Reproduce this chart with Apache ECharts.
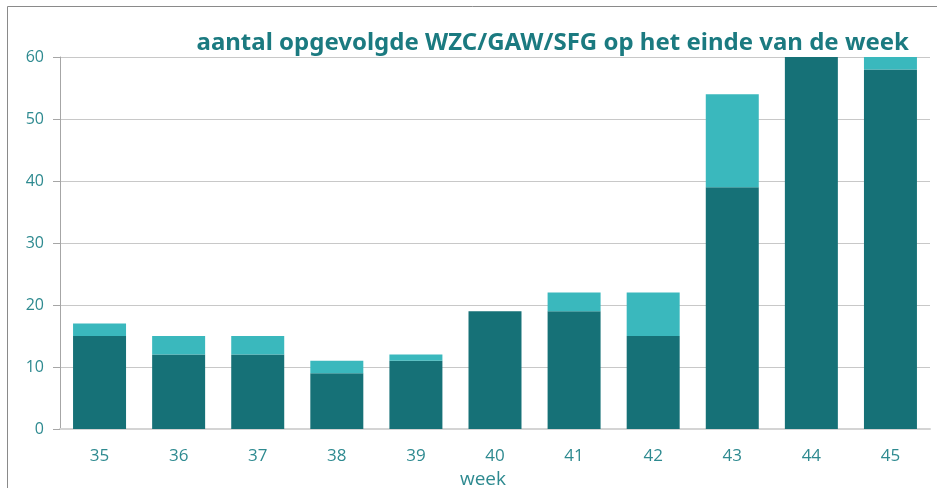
<!DOCTYPE html>
<html><head><meta charset="utf-8">
<script src="https://cdn.jsdelivr.net/npm/echarts@6/dist/echarts.min.js"></script>
<style>html,body{margin:0;padding:0;background:#fff;}#c{width:937px;height:488px;}</style>
</head><body><div id="c"></div>
<script>
const categories = ['35','36','37','38','39','40','41','42','43','44','45'];
const baseValues = [15, 12, 12, 9, 11, 19, 19, 15, 39, 60, 58];
const extraValues = [2, 3, 3, 2, 1, 0, 3, 7, 15, 0, 2];
const yTicks = [0, 10, 20, 30, 40, 50, 60];
const titleText = 'aantal opgevolgde WZC/GAW/SFG op het einde van de week';
const axisName = 'week';

const chart = echarts.init(document.getElementById('c'));
chart.setOption({
  animation: false,
  title: {
    text: titleText, right: 23, top: 26,
    textStyle: {fontFamily: 'Noto Sans', fontWeight: 'bold', fontSize: 24, color: '#1b7a80'}
  },
  graphic: [{
    type: 'rect', silent: true,
    shape: {x: 7.5, y: 6.5, width: 1200, height: 1000},
    style: {fill: 'none', stroke: '#8a8a8a', lineWidth: 1}
  }],
  grid: {left: 60, right: 7, top: 57, bottom: 59, outerBoundsMode: 'none', containLabel: false},
  xAxis: {
    type: 'category', data: categories,
    name: axisName, nameLocation: 'middle', nameGap: 29,
    nameTextStyle: {fontFamily: 'Open Sans', fontSize: 19, color: '#2e8a90', padding: [0, 24, 0, 0]},
    axisLine: {lineStyle: {color: '#d4d4d4', width: 2}},
    axisTick: {show: false},
    axisLabel: {fontFamily: 'Open Sans', fontSize: 17, color: '#2e8a90', margin: 19}
  },
  yAxis: {
    type: 'value', min: yTicks[0], max: yTicks[yTicks.length - 1], interval: 10,
    axisLine: {show: true, lineStyle: {color: '#a6a6a6'}},
    axisTick: {show: true, length: 7, lineStyle: {color: '#a6a6a6'}},
    splitLine: {lineStyle: {color: '#c8c8c8'}},
    axisLabel: {fontFamily: 'Open Sans', fontSize: 16, color: '#2e8a90', margin: 16}
  },
  series: [
    {type: 'bar', stack: 's', data: baseValues, barWidth: '67%',
     itemStyle: {color: '#167177'}},
    {type: 'bar', stack: 's', data: extraValues, barWidth: '67%',
     itemStyle: {color: '#3ab8bd'}}
  ]
});
</script></body></html>
